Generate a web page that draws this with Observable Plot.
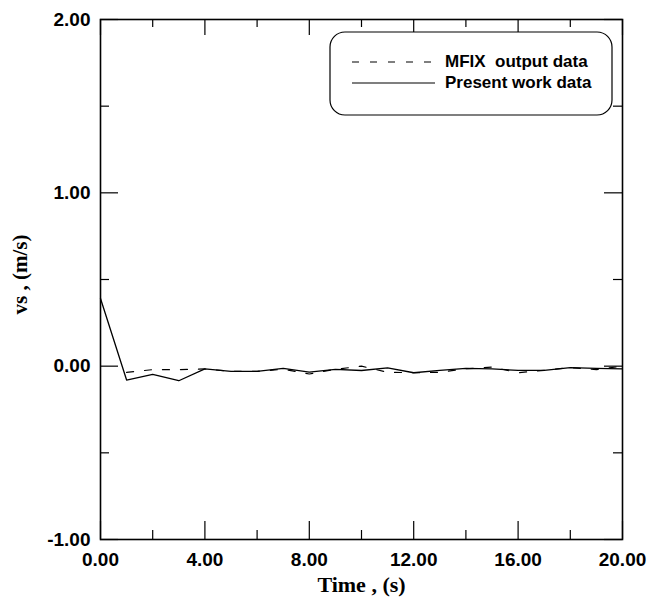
<!DOCTYPE html>
<html>
<head>
<meta charset="utf-8">
<script src="https://cdn.jsdelivr.net/npm/d3@7"></script>
<script src="https://cdn.jsdelivr.net/npm/@observablehq/plot@0.6"></script>
<style>
  html, body { margin: 0; padding: 0; background: #fff; }
</style>
</head>
<body>
<div id="chart"></div>
<script>
// ---- data ----
const time = [0, 1, 2, 3, 4, 5, 6, 7, 8, 9, 10, 11, 12, 13, 14, 15, 16, 17, 18, 19, 20];
const presentWork = [0.39, -0.08, -0.047, -0.084, -0.016, -0.03, -0.03, -0.013, -0.034, -0.018, -0.025, -0.01, -0.038, -0.024, -0.013, -0.016, -0.024, -0.024, -0.008, -0.013, -0.016];
const mfixTime = [1, 2, 3, 4, 5, 6, 7, 8, 9, 10, 11, 12, 13, 14, 15, 16, 17, 18, 19, 20];
const mfixOutput = [-0.036, -0.02, -0.02, -0.016, -0.03, -0.03, -0.018, -0.045, -0.018, 0.0, -0.035, -0.038, -0.035, -0.015, -0.005, -0.038, -0.024, -0.008, -0.02, 0.0];
const xMajor = [0, 4, 8, 12, 16, 20];
const xMinor = [2, 6, 10, 14, 18];
const yMajor = [-1, 0, 1, 2];
const yMinor = [-0.5, 0.5, 1.5];
const seriesNames = ["MFIX  output data", "Present work data"];
const xTitle = "Time , (s)";
const yTitle = "vs , (m/s)";

const present = time.map((t, i) => ({t, v: presentWork[i]}));
const mfix = mfixTime.map((t, i) => ({t, v: mfixOutput[i]}));

const W = 647, H = 598;
const mL = 100, mR = 25, mT = 19, mB = 59;
const pw = W - mL - mR, ph = H - mT - mB;
const fmt = d => d3.format(".2f")(d).replace("\u2212", "-");
const tickStyle = {stroke: "#000", strokeWidth: 1.2};
const serif = "'Liberation Serif', 'Times New Roman', serif";

const svg = Plot.plot({
  width: W,
  height: H,
  marginLeft: mL,
  marginRight: mR,
  marginTop: mT,
  marginBottom: mB,
  style: {fontFamily: "'Liberation Sans', Arial, sans-serif", fontWeight: "bold", fontSize: "19px", background: "#fff", color: "#000"},
  x: {domain: [0, 20]},
  y: {domain: [-1, 2]},
  marks: [
    // inward ticks: bottom
    Plot.ruleX(xMajor, {x: d => d, insetTop: ph - 18, ...tickStyle}),
    Plot.ruleX(xMinor, {x: d => d, insetTop: ph - 9, ...tickStyle}),
    // top
    Plot.ruleX(xMajor, {x: d => d, insetBottom: ph - 16, ...tickStyle}),
    Plot.ruleX(xMinor, {x: d => d, insetBottom: ph - 8, ...tickStyle}),
    // left
    Plot.ruleY(yMajor, {y: d => d, insetRight: pw - 18, ...tickStyle}),
    Plot.ruleY(yMinor, {y: d => d, insetRight: pw - 9, ...tickStyle}),
    // right
    Plot.ruleY(yMajor, {y: d => d, insetLeft: pw - 18, ...tickStyle}),
    Plot.ruleY(yMinor, {y: d => d, insetLeft: pw - 9, ...tickStyle}),
    Plot.frame({stroke: "#000", strokeWidth: 1.6}),
    Plot.axisX({ticks: xMajor, tickSize: 0, tickPadding: 13, tickFormat: fmt, label: null}),
    Plot.axisY({ticks: yMajor, tickSize: 0, tickPadding: 10, tickFormat: fmt, label: null}),
    Plot.line(mfix, {x: "t", y: "v", stroke: "#000", strokeWidth: 1.2, strokeDasharray: "7,11"}),
    Plot.line(present, {x: "t", y: "v", stroke: "#000", strokeWidth: 1.3}),
    Plot.text([xTitle], {frameAnchor: "bottom", dy: 52, fontFamily: serif, fontWeight: "bold", fontSize: 22}),
    Plot.text([yTitle], {frameAnchor: "left", textAnchor: "middle", rotate: -90, dx: -80, dy: -5, fontFamily: serif, fontWeight: "bold", fontSize: 21})
  ]
});

// legend box
const g = d3.select(svg).append("g").attr("class", "legend");
g.append("rect")
  .attr("x", 330).attr("y", 32).attr("width", 282).attr("height", 83)
  .attr("rx", 15).attr("ry", 15)
  .attr("fill", "#fff").attr("stroke", "#000").attr("stroke-width", 1.2);
const items = [
  {name: seriesNames[0], dash: "7,11", y: 62},
  {name: seriesNames[1], dash: null, y: 83}
];
items.forEach(it => {
  const l = g.append("line")
    .attr("x1", 352).attr("x2", 435).attr("y1", it.y).attr("y2", it.y)
    .attr("stroke", "#000").attr("stroke-width", 1.2);
  if (it.dash) l.attr("stroke-dasharray", it.dash);
  g.append("text")
    .attr("x", 445).attr("y", it.y + 5)
    .attr("text-anchor", "start")
    .attr("font-family", "'Liberation Sans', Arial, sans-serif")
    .attr("font-weight", "bold")
    .attr("font-size", 17)
    .style("white-space", "pre")
    .attr("xml:space", "preserve")
    .text(it.name);
});

document.getElementById("chart").appendChild(svg);
</script>
</body>
</html>
